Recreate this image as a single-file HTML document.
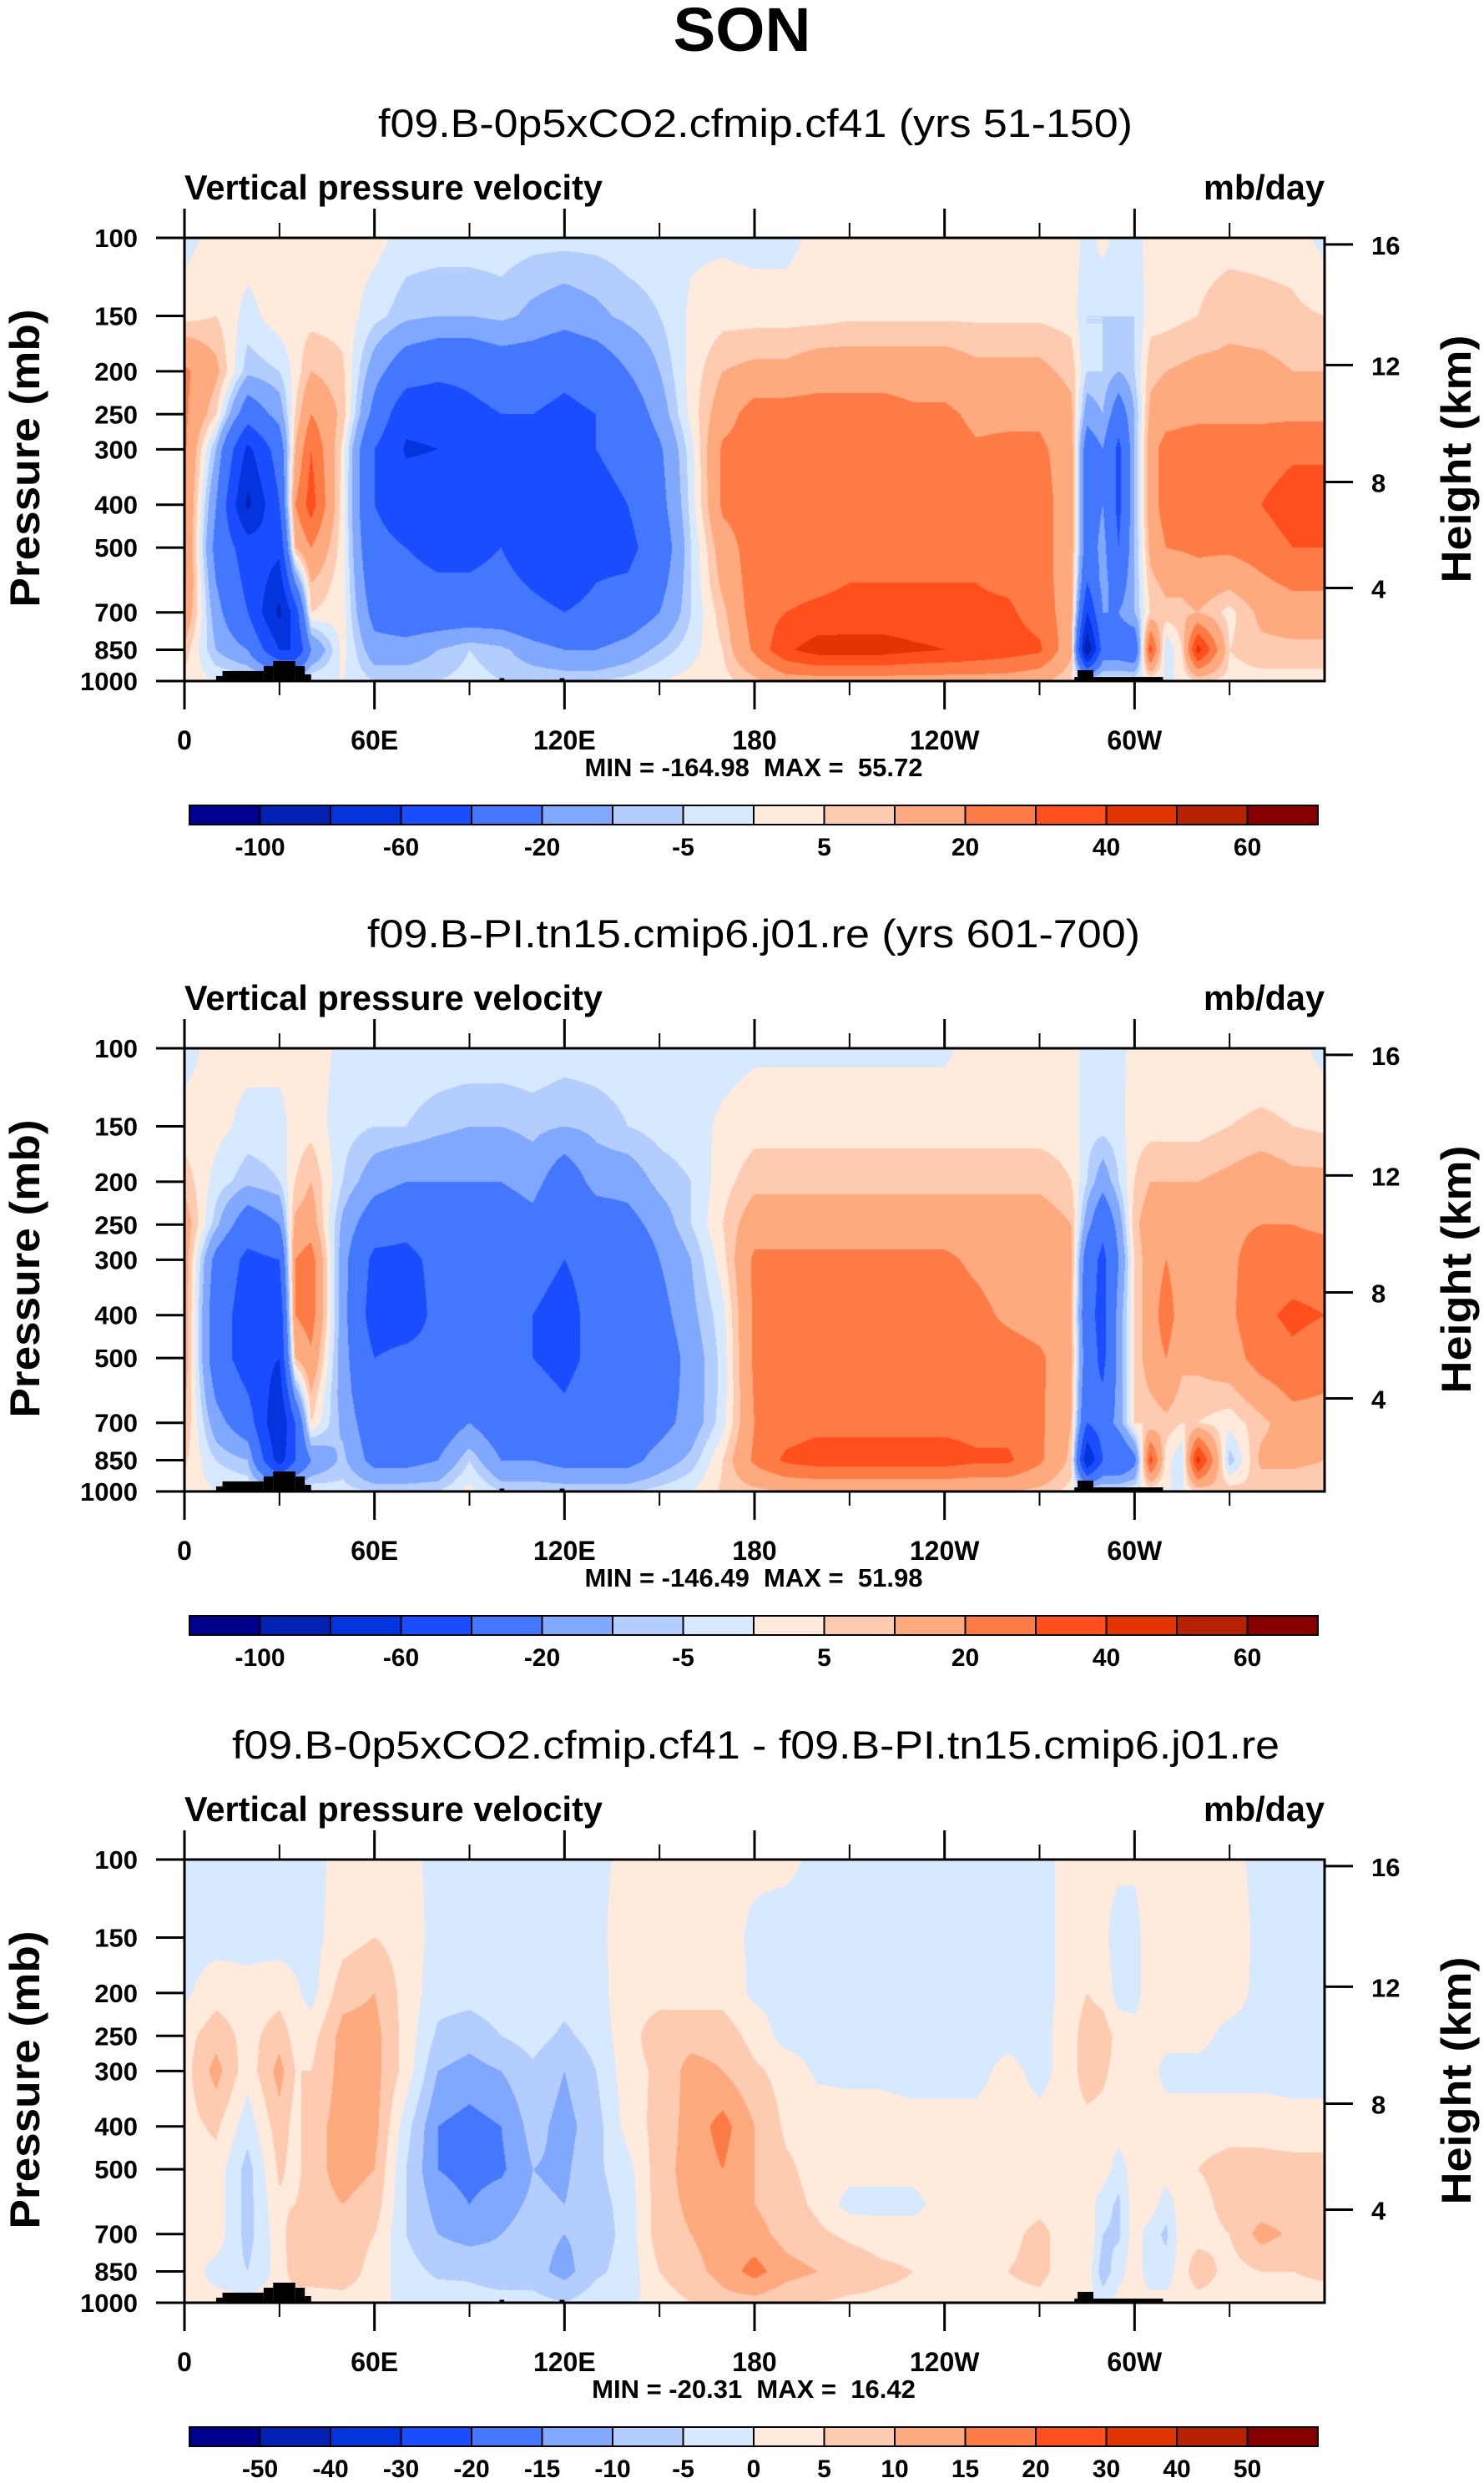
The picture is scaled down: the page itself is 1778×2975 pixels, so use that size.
<!DOCTYPE html>
<html><head><meta charset="utf-8">
<style>
html,body{margin:0;padding:0;background:#fff;}
#wrap{position:relative;width:1778px;height:2975px;overflow:hidden;background:#fff;}
canvas{position:absolute;}
svg{position:absolute;left:0;top:0;}
text{font-family:"Liberation Sans",sans-serif;fill:#000;}
.pre{white-space:pre;}
</style></head>
<body>
<div id="wrap">
<canvas id="c0" width="1366" height="531" style="left:221px;top:285px"></canvas>
<canvas id="c1" width="1366" height="531" style="left:221px;top:1256px"></canvas>
<canvas id="c2" width="1366" height="531" style="left:221px;top:2228px"></canvas>
<svg id="ov" width="1778" height="2975" xmlns="http://www.w3.org/2000/svg">
<text x="889" y="61" font-size="74" font-weight="bold" text-anchor="middle" textLength="165" lengthAdjust="spacingAndGlyphs">SON</text>
</svg>
</div>
<script>
// ---- data ----
const lons = [0,10,20,30,35,40,50,60,70,80,90,100,110,120,130,140,150,160,170,180,190,200,210,220,230,240,250,260,270,280,285,290,295,300,305,310,315,320,330,340,350,360];
const levels = [100,150,200,250,300,400,500,600,700,850,1000];
const p1Cols = [
[-2,3,22,22,22,22,22,22,18,8,3],
[2,5,12,5,-10,-20,-25,-20,-15,-10,0],
[3,-2,-8,-30,-65,-85,-50,-45,-40,-20,0],
[3,3,-5,-15,-30,-40,-55,-70,-85,-60,0],
[3,3,2,5,10,20,10,-20,-50,-60,0],
[3,3,10,20,30,35,20,10,5,-20,0],
[2,3,6,8,3,2,2,2,2,2,0],
[2,-3,-15,-25,-40,-40,-35,-30,-25,-15,-5],
[-2,-8,-30,-55,-62,-50,-40,-35,-30,-15,-5],
[-2,-10,-35,-55,-60,-50,-45,-38,-30,-10,-5],
[-2,-10,-35,-45,-45,-45,-45,-38,-30,-5,-3],
[-2,-8,-30,-40,-45,-45,-40,-35,-30,-8,-5],
[-3,-12,-30,-40,-40,-45,-50,-42,-35,-15,-5],
[-3,-15,-35,-45,-50,-55,-55,-48,-40,-20,-5],
[-3,-12,-30,-40,-40,-45,-45,-40,-35,-20,-5],
[-2,-8,-20,-30,-35,-40,-45,-38,-30,-15,-3],
[-2,-5,-10,-15,-22,-25,-30,-25,-20,-8,0],
[-1,1,2,2,-2,-3,-5,-5,-5,-2,2],
[-1,3,10,15,22,22,15,12,8,5,3],
[-2,3,12,25,25,25,25,25,25,22,8],
[-2,3,12,25,26,26,26,27,30,38,15],
[2,3,15,25,26,26,26,28,32,45,15],
[3,4,15,25,26,26,27,30,33,45,15],
[3,4,15,25,25,25,27,30,33,45,15],
[3,4,15,22,25,25,27,30,33,42,15],
[3,4,15,22,24,25,27,30,33,40,15],
[3,4,12,18,21,25,27,30,32,38,15],
[3,4,12,18,22,25,26,28,32,35,15],
[3,4,12,18,22,24,24,24,25,32,12],
[3,3,8,12,15,15,15,15,15,12,5],
[-2,-5,-5,-15,-30,-30,-30,-40,-60,-100,0],
[2,-5,-5,-10,-20,-20,-15,-15,-20,-30,0],
[-2,-5,-10,-30,-45,-45,-40,-30,-20,-30,0],
[-2,-5,-5,-10,-10,-10,-10,-10,-10,-35,0],
[2,3,8,12,15,15,12,8,5,35,0],
[2,3,10,15,25,25,20,12,8,-5,0],
[3,4,11,17,25,25,21,12,8,5,0],
[3,5,12,18,25,25,22,15,10,45,5],
[3,8,12,18,25,28,22,12,3,5,3],
[3,7,12,18,25,30,25,18,12,8,3],
[3,6,10,18,28,35,30,22,15,8,3],
[-2,5,10,18,28,35,30,22,15,8,3]
];
const p2Cols = [
[-2,2,8,15,15,15,15,12,10,6,3],
[2,2,-2,-8,-25,-30,-30,-22,-15,-5,0],
[2,-2,-8,-30,-45,-50,-50,-40,-30,-10,0],
[2,-2,-5,-20,-40,-55,-60,-70,-80,-70,0],
[2,2,5,12,20,20,10,-15,-40,-40,0],
[2,3,10,15,25,25,18,10,5,-20,0],
[-1,-3,-5,-12,-15,-15,-15,-14,-12,-8,-3],
[-1,-5,-15,-30,-45,-50,-40,-35,-30,-25,-5],
[-1,-5,-20,-35,-45,-50,-35,-32,-30,-25,-5],
[-1,-8,-20,-30,-35,-35,-35,-32,-30,-20,-5],
[-1,-10,-20,-25,-25,-35,-35,-28,-20,-5,2],
[-1,-10,-20,-30,-30,-35,-35,-32,-30,-20,-5],
[-1,-8,-15,-25,-35,-40,-40,-35,-30,-20,-5],
[-2,-10,-30,-40,-40,-45,-45,-40,-35,-25,-5],
[-2,-8,-15,-30,-35,-35,-35,-32,-30,-25,-5],
[-2,-5,-15,-25,-35,-40,-40,-35,-30,-25,-5],
[-2,-3,-8,-15,-20,-25,-30,-28,-25,-15,-3],
[-2,-2,-5,-5,-10,-12,-15,-15,-15,-8,0],
[-2,1,3,5,3,-2,-3,-3,-2,5,6],
[-1,3,8,15,22,22,22,21,20,22,8],
[-1,3,8,15,22,25,25,25,25,32,10],
[-1,3,8,15,22,25,26,27,27,35,10],
[-1,3,8,15,22,25,26,27,27,35,10],
[-1,3,8,15,22,25,26,27,27,35,10],
[-1,3,8,15,22,25,26,27,27,35,10],
[-1,3,8,15,22,25,26,27,27,35,10],
[2,3,8,15,18,23,25,26,26,32,10],
[2,3,8,15,15,18,25,26,26,32,10],
[2,3,8,15,15,15,22,22,22,22,8],
[2,3,5,10,12,12,12,11,10,8,3],
[-2,-3,-5,-15,-30,-35,-30,-35,-40,-80,0],
[-2,-3,-15,-35,-45,-45,-45,-38,-30,-40,0],
[-1,-2,-5,-15,-20,-15,-15,-15,-15,-40,0],
[1,3,5,8,5,5,5,5,5,-25,0],
[1,3,10,15,15,15,15,10,5,35,0],
[2,3,10,18,20,25,20,14,8,2,0],
[2,3,10,15,15,15,12,8,5,-5,0],
[2,3,10,15,15,15,12,8,5,45,5],
[2,5,12,18,18,18,15,8,2,-8,8],
[2,6,15,20,25,28,25,15,8,12,5],
[2,5,12,20,25,32,28,22,15,12,5],
[-2,4,12,18,25,30,25,20,15,10,5]
];
const p3Cols = [
[-2,-2,-1,3,3,3,3,3,3,3,2],
[-2,-2,3,8,12,6,3,3,3,-2,2],
[-2,-2,2,3,2,-3,-7,-7,-7,-5,2],
[-1,-2,3,8,12,8,6,4,3,2,2],
[-1,-2,1,3,5,3,3,5,8,8,2],
[-2,-2,-2,3,5,8,8,8,8,8,2],
[2,3,8,12,12,12,12,10,8,8,3],
[2,5,10,12,12,12,10,8,5,3,2],
[2,3,3,3,3,-3,-5,-5,-5,-3,-2],
[-2,-2,-3,-6,-10,-15,-15,-12,-10,-6,-2],
[-2,-2,-3,-8,-12,-17,-17,-15,-12,-6,-3],
[-2,-2,-2,-5,-10,-15,-16,-12,-10,-8,-3],
[-2,-2,-2,-3,-6,-8,-10,-9,-8,-8,-3],
[-2,-2,-3,-6,-10,-12,-11,-10,-10,-12,-5],
[-1,-1,-2,-3,-5,-7,-6,-7,-8,-6,-2],
[1,2,3,3,3,2,-2,-3,-3,-3,-2],
[1,2,3,8,6,7,8,8,8,5,3],
[1,2,3,8,12,12,12,11,10,8,5],
[1,2,3,8,10,17,15,14,13,12,8],
[1,-1,-1,3,6,10,10,10,12,17,8],
[1,-2,-2,-2,3,4,6,7,8,12,6],
[-1,-2,-2,-2,-1,3,3,4,6,10,5],
[-1,-2,-2,-2,-1,2,2,-2,4,8,4],
[-1,-2,-2,-2,-1,2,2,-2,3,6,4],
[-1,-2,-2,-2,-2,2,2,-2,3,5,4],
[-1,-2,-2,-2,-2,2,3,3,3,5,4],
[-1,-2,-2,-2,-2,2,3,3,3,5,4],
[-1,-2,-2,-2,2,3,3,3,4,5,4],
[-1,-2,-2,-2,-2,2,3,4,6,6,4],
[1,2,2,3,3,3,3,3,3,3,2],
[2,2,5,8,8,3,3,3,5,3,2],
[1,1,3,8,6,3,3,-3,-5,-8,-2],
[1,-2,-2,3,3,3,-3,-6,-6,-2,2],
[1,-2,-2,2,2,3,3,3,3,3,2],
[2,3,3,2,2,3,3,3,-3,-3,2],
[2,3,3,2,-2,3,3,-3,-6,-3,2],
[2,3,3,2,-2,3,4,3,3,3,2],
[2,4,3,2,-2,3,5,3,3,8,3],
[2,4,3,-2,-2,3,7,7,5,3,3],
[-2,-2,-2,-2,-2,3,7,7,12,5,3],
[-2,-2,-2,-2,-2,2,7,7,9,5,3],
[-2,-2,-2,-2,-2,2,7,8,8,6,3]
];
const levs12 = [-100,-80,-60,-40,-20,-10,-5,0,5,10,20,30,40,50,60];
const levs3 = [-50,-40,-30,-20,-15,-10,-5,0,5,10,15,20,30,40,50];
const cbLabels12 = ["-100","","-60","","-20","","-5","","5","","20","","40","","60"];
const cbLabels3 = ["-50","-40","-30","-20","-15","-10","-5","0","5","10","15","20","30","40","50"];
const colors = ["#00008e","#0321b2","#0334de","#1a4dff","#4477ff","#80a8ff","#b4cdff","#d6e9ff","#ffeadb","#ffcbb0","#ffa97f","#ff7b45","#ff4f1c","#e33502","#b82204","#870000"];
const pTicks = [100,150,200,250,300,400,500,700,850,1000];
const hLabels = ["16","12","8","4"];
const hPres = [103.5,193.6,355.6,616.6];
const lonMajor = [0,60,120,180,240,300];
const lonMajorLabels = ["0","60E","120E","180","120W","60W"];
const lonMinor = [30,90,150,210,270,330];
const topoLon0 = [10,12,25,28,35,38,99.5,118.5,281,282,287];
const topoLon1 = [12,25,28,35,38,40,101,120,282,287,309];
const topoP = [974,949,925,901,925,966,985,985,979,945,979];
const titles = ["f09.B-0p5xCO2.cfmip.cf41 (yrs 51-150)","f09.B-PI.tn15.cmip6.j01.re (yrs 601-700)","f09.B-0p5xCO2.cfmip.cf41 - f09.B-PI.tn15.cmip6.j01.re"];
const minMax = ["MIN = -164.98  MAX =  55.72","MIN = -146.49  MAX =  51.98","MIN = -20.31  MAX =  16.42"];

// ---- layout ----
const PX = 221, PW = 1366, PH = 531, PT = 285;
const offsets = [0, 971, 1943];
const titleW = [[453,1357],[440,1366],[278,1533]];
function xOf(lon){ return PX + lon/360*PW; }
function yOf(p, off){ return PT + off + Math.log(p/100)/Math.log(10)*PH; }

const svg = document.getElementById('ov');
const NS = 'http://www.w3.org/2000/svg';
function mk(tag, attrs, txt){
  const e = document.createElementNS(NS, tag);
  for (const k in attrs) e.setAttribute(k, attrs[k]);
  if (txt !== undefined) e.textContent = txt;
  svg.appendChild(e);
  return e;
}

function colorIndex(v, levs){
  let i = 0;
  while (i < levs.length && v >= levs[i]) i++;
  return i;
}
function hex(c){ return [parseInt(c.substr(1,2),16),parseInt(c.substr(3,2),16),parseInt(c.substr(5,2),16)]; }
const rgb = colors.map(hex);

function drawField(cv, cols, levs){
  const ctx = cv.getContext('2d');
  const img = ctx.createImageData(PW, PH);
  const lnL = levels.map(p => Math.log(p));
  const ci = [], cf = [];
  for (let x = 0; x < PW; x++){
    const lon = (x + 0.5)/PW*360;
    let i = 0; while (i < lons.length-2 && lon > lons[i+1]) i++;
    ci.push(i); cf.push((lon - lons[i])/(lons[i+1]-lons[i]));
  }
  for (let y = 0; y < PH; y++){
    const lp = Math.log(100) + (y+0.5)/PH*Math.log(10);
    let j = 0; while (j < lnL.length-2 && lp > lnL[j+1]) j++;
    const fy = (lp - lnL[j])/(lnL[j+1]-lnL[j]);
    for (let x = 0; x < PW; x++){
      const i = ci[x], fx = cf[x];
      const a = cols[i][j], b = cols[i+1][j], c = cols[i][j+1], d = cols[i+1][j+1];
      const v = (a*(1-fx)+b*fx)*(1-fy) + (c*(1-fx)+d*fx)*fy;
      const col = rgb[colorIndex(v, levs)];
      const k = (y*PW + x)*4;
      img.data[k]=col[0]; img.data[k+1]=col[1]; img.data[k+2]=col[2]; img.data[k+3]=255;
    }
  }
  ctx.putImageData(img, 0, 0);
}

const fields = [p1Cols, p2Cols, p3Cols];
const levSets = [levs12, levs12, levs3];
const cbLabelSets = [cbLabels12, cbLabels12, cbLabels3];

for (let k = 0; k < 3; k++){
  const off = offsets[k];
  drawField(document.getElementById('c'+k), fields[k], levSets[k]);
  for (let t = 0; t < topoLon0.length; t++){
    const r = mk('rect', {x: xOf(topoLon0[t]), y: yOf(topoP[t], off), width: xOf(topoLon1[t]) - xOf(topoLon0[t]), height: yOf(1000, off) - yOf(topoP[t], off), fill: '#000'});
    
    
  }
  const tt = mk('text', {x: titleW[k][0], y: 164 + off, 'font-size': 47, textLength: titleW[k][1]-titleW[k][0], lengthAdjust: 'spacingAndGlyphs'}, titles[k]);
  
  
  const lt = mk('text', {x: 221, y: 239 + off, 'font-size': 42, 'font-weight': 'bold', textLength: 501, lengthAdjust: 'spacingAndGlyphs'}, 'Vertical pressure velocity');
  
  
  const ut = mk('text', {x: 1442, y: 239 + off, 'font-size': 42, 'font-weight': 'bold', textLength: 145, lengthAdjust: 'spacingAndGlyphs'}, 'mb/day');
  
  
  const fr = mk('rect', {x: PX, y: PT + off, width: PW, height: PH, fill: 'none', stroke: '#000', 'stroke-width': 3});
  
  
  pTicks.forEach(p => {
    const y = yOf(p, off);
    const ln = mk('line', {x1: 187, x2: PX, y1: y, y2: y, stroke: '#000', 'stroke-width': 3});
    
    
    const tx = mk('text', {x: 165, y: y + 11, 'font-size': 31, 'font-weight': 'bold', 'text-anchor': 'end'}, String(p));
    
    
  });
  hPres.forEach((p, i) => {
    const y = yOf(p, off);
    const ln = mk('line', {x1: PX + PW, x2: 1621, y1: y, y2: y, stroke: '#000', 'stroke-width': 3});
    
    
    const tx = mk('text', {x: 1643, y: y + 12, 'font-size': 31, 'font-weight': 'bold'}, hLabels[i]);
    
    
  });
  lonMajor.forEach((lon, i) => {
    const x = xOf(lon);
    const a = mk('line', {x1: x, x2: x, y1: PT + off - 35, y2: PT + off, stroke: '#000', 'stroke-width': 3});
    
    
    const b = mk('line', {x1: x, x2: x, y1: PT + off + PH, y2: PT + off + PH + 34, stroke: '#000', 'stroke-width': 3});
    
    
    const tx = mk('text', {x: x, y: 898 + off, 'font-size': 32, 'font-weight': 'bold', 'text-anchor': 'middle'}, lonMajorLabels[i]);
    
    
  });
  lonMinor.forEach(lon => {
    const x = xOf(lon);
    const a = mk('line', {x1: x, x2: x, y1: PT + off - 18, y2: PT + off, stroke: '#000', 'stroke-width': 2});
    
    
    const b = mk('line', {x1: x, x2: x, y1: PT + off + PH, y2: PT + off + PH + 17, stroke: '#000', 'stroke-width': 2});
    
    
  });
  const pt = mk('text', {x: 0, y: 0, 'font-size': 50, 'font-weight': 'bold', 'text-anchor': 'middle', transform: 'translate(47,' + (549 + off) + ') rotate(-90)', textLength: 357, lengthAdjust: 'spacingAndGlyphs'}, 'Pressure (mb)');
  
  
  const ht = mk('text', {x: 0, y: 0, 'font-size': 50, 'font-weight': 'bold', 'text-anchor': 'middle', transform: 'translate(1762,' + (550 + off) + ') rotate(-90)', textLength: 297, lengthAdjust: 'spacingAndGlyphs'}, 'Height (km)');
  
  
  const mm = mk('text', {x: 903, y: 930 + off, 'font-size': 31, 'font-weight': 'bold', 'text-anchor': 'middle', 'class': 'pre'}, minMax[k]);
  
  
  const cbX = 227, cbW = 1352, cbY = 965 + off, cbH = 23, bw = cbW / colors.length;
  colors.forEach((c, i) => {
    const r = mk('rect', {x: cbX + i*bw, y: cbY, width: bw, height: cbH, fill: c, stroke: '#000', 'stroke-width': 2});
    
    
  });
  cbLabelSets[k].forEach((lab, i) => {
    if (!lab) return;
    const tx = mk('text', {x: cbX + (i+1)*bw, y: 1025 + off, 'font-size': 30, 'font-weight': 'bold', 'text-anchor': 'middle'}, lab);
    
    
  });
}
</script>
</body></html>
